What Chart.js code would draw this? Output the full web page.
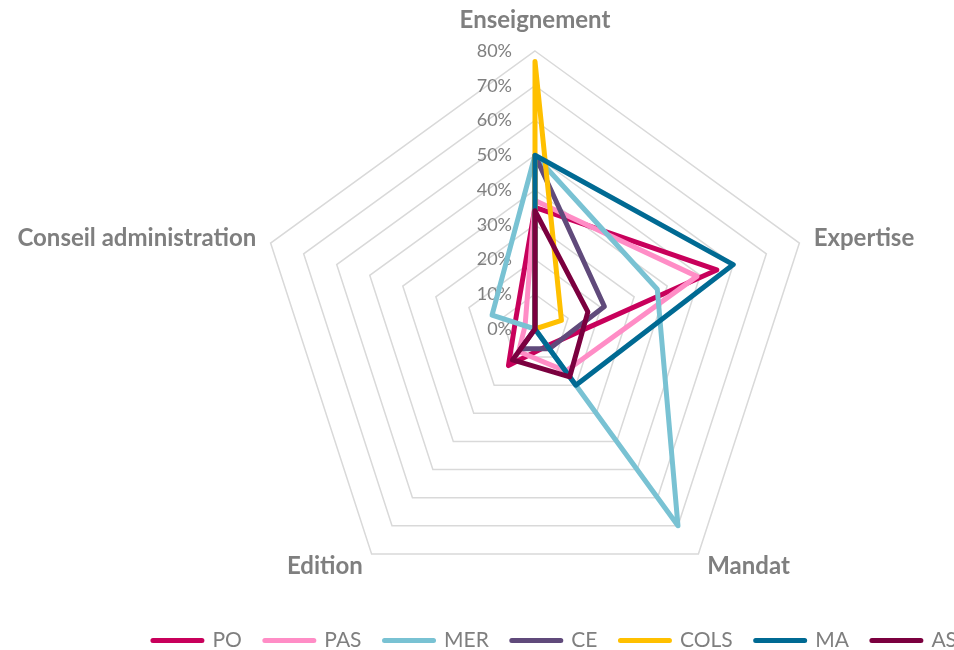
<!DOCTYPE html>
<html>
<head>
<meta charset="utf-8">
<script src="https://cdn.jsdelivr.net/npm/chart.js@4.4.1/dist/chart.umd.min.js"></script>
<style>
  html, body { margin: 0; padding: 0; background: #fff; }
  #wrap { width: 954px; height: 650px; }
</style>
</head>
<body>
<div id="wrap"><canvas id="radar"></canvas></div>
<script>
const axes = ["Enseignement", "Expertise", "Mandat", "Edition", "Conseil administration"];
const seriesNames = ["PO", "PAS", "MER", "CE", "COLS", "MA", "AS"];

// % per activity, in the order of axes
const po   = [35, 55, 6, 13, 6];
const pas  = [37, 49, 15, 8, 3];
const mer  = [50, 37, 70, 0, 13];
const ce   = [50, 21, 7, 7, 0];
const cols = [77, 8, 0, 0, 0];
const ma   = [50, 60, 20, 0, 0];
const as   = [34, 16, 17, 11, 0];

const tickLabels = ["0%", "10%", "20%", "30%", "40%", "50%", "60%", "70%", "80%"];

const seriesValues = [po, pas, mer, ce, cols, ma, as];
const seriesColors = ["#c8005b", "#ff8dc6", "#79c2d3", "#604a7b", "#ffc000", "#006a93", "#7b003f"];

Chart.defaults.font.family = "Lato";

// Excel puts the value labels left of the vertical axis and the category
// names around the outer ring; positions come from the radial scale.
const axisText = {
  id: "axisText",
  beforeDatasetsDraw(chart) {
    const r = chart.scales.r;
    const ctx = chart.ctx;
    ctx.save();
    ctx.fillStyle = "#7f7f7f";
    ctx.textBaseline = "middle";

    ctx.font = "18px Lato";
    ctx.textAlign = "right";
    r.ticks.forEach(t => {
      const y = r.yCenter - r.getDistanceFromCenterForValue(t.value);
      ctx.fillText(t.label, r.xCenter - 23, y);
    });

    ctx.font = "bold 24px Lato";
    chart.data.labels.forEach((lab, i) => {
      const p = r.getPointPosition(i, r.drawingArea + 15);
      const dx = p.x - r.xCenter;
      let y = p.y;
      if (Math.abs(dx) < 1) {
        ctx.textAlign = "center";
        y -= 16;
      } else {
        ctx.textAlign = dx > 0 ? "left" : "right";
      }
      ctx.fillText(lab, p.x, y);
    });
    ctx.restore();
  }
};

const datasets = seriesNames.map((name, i) => ({
  label: name,
  data: seriesValues[i],
  borderColor: seriesColors[i],
  backgroundColor: seriesColors[i],
  borderWidth: 5,
  borderJoinStyle: "round",
  borderCapStyle: "round",
  pointRadius: 0,
  fill: false,
  order: seriesNames.length - i
}));

new Chart(document.getElementById("radar"), {
  type: "radar",
  data: { labels: axes, datasets: datasets },
  options: {
    responsive: true,
    maintainAspectRatio: false,
    animation: false,
    layout: { padding: { left: 116, right: -26, top: 51, bottom: -11 } },
    scales: {
      r: {
        min: 0,
        max: 80,
        ticks: {
          stepSize: 10,
          display: false,
          callback: (v, idx) => tickLabels[idx]
        },
        grid: { color: "#d9d9d9", lineWidth: 1.5 },
        angleLines: { display: false },
        pointLabels: { display: false }
      }
    },
    plugins: {
      legend: {
        position: "bottom",
        align: "end",
        labels: {
          // flat box stroked with round joins = short rounded line
          boxWidth: 49,
          boxHeight: 0,
          padding: 23,
          color: "#7f7f7f",
          font: { size: 21 },
          sort: (a, b) => a.datasetIndex - b.datasetIndex
        }
      },
      tooltip: { enabled: false }
    }
  },
  plugins: [axisText]
});
</script>
</body>
</html>
